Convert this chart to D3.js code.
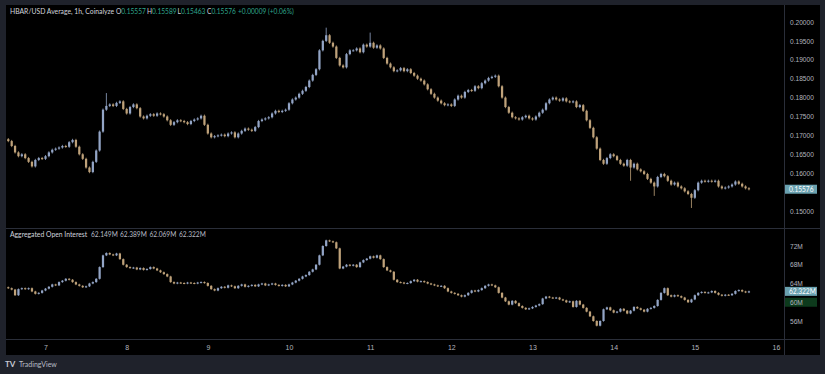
<!DOCTYPE html>
<html>
<head>
<meta charset="utf-8">
<script src="https://cdn.jsdelivr.net/npm/d3@7/dist/d3.min.js"></script>
<style>
  html, body { margin: 0; padding: 0; background: #1f222b; }
  svg { display: block; font-family: Lato, "Noto Sans", sans-serif; }
</style>
</head>
<body>
<svg id="mychart"></svg>
<script>
// hourly closes, HBAR/USD, starting day 6 13:00
var priceClose = [
  0.1685,0.1672,0.1655,0.1645,0.1650,0.1640,0.1630,0.1618,0.1635,0.1640,
  0.1638,0.1645,0.1655,0.1662,0.1665,0.1668,0.1672,0.1670,0.1682,0.1688,
  0.1670,0.1650,0.1638,0.1615,0.1603,0.1630,0.1660,0.1710,0.1768,0.1778,
  0.1782,0.1778,0.1786,0.1790,0.1770,0.1758,0.1775,0.1782,0.1772,0.1750,
  0.1745,0.1752,0.1756,0.1752,0.1758,0.1756,0.1750,0.1740,0.1728,0.1735,
  0.1740,0.1738,0.1735,0.1730,0.1738,0.1742,0.1745,0.1752,0.1728,0.1705,
  0.1695,0.1698,0.1700,0.1702,0.1698,0.1705,0.1708,0.1695,0.1705,0.1712,
  0.1718,0.1715,0.1712,0.1722,0.1738,0.1742,0.1745,0.1748,0.1758,0.1765,
  0.1762,0.1765,0.1768,0.1785,0.1795,0.1800,0.1810,0.1818,0.1828,0.1845,
  0.1860,0.1875,0.1925,0.1950,0.1965,0.1945,0.1935,0.1905,0.1885,0.1880,
  0.1915,0.1925,0.1925,0.1930,0.1920,0.1940,0.1935,0.1945,0.1932,0.1938,
  0.1930,0.1905,0.1890,0.1880,0.1870,0.1872,0.1878,0.1870,0.1875,0.1865,
  0.1858,0.1850,0.1845,0.1835,0.1822,0.1810,0.1800,0.1792,0.1785,0.1780,
  0.1782,0.1778,0.1795,0.1805,0.1800,0.1815,0.1820,0.1818,0.1830,0.1825,
  0.1838,0.1845,0.1852,0.1855,0.1858,0.1830,0.1800,0.1775,0.1760,0.1748,
  0.1745,0.1742,0.1748,0.1752,0.1745,0.1742,0.1750,0.1760,0.1768,0.1785,
  0.1795,0.1800,0.1795,0.1792,0.1798,0.1790,0.1788,0.1790,0.1775,0.1780,
  0.1765,0.1740,0.1720,0.1695,0.1665,0.1635,0.1625,0.1640,0.1650,0.1645,
  0.1635,0.1625,0.1620,0.1635,0.1615,0.1625,0.1610,0.1605,0.1598,0.1585,
  0.1575,0.1565,0.1590,0.1598,0.1592,0.1580,0.1570,0.1575,0.1565,0.1560,
  0.1552,0.1545,0.1535,0.1555,0.1575,0.1580,0.1578,0.1580,0.1578,0.1580,
  0.1565,0.1560,0.1562,0.1565,0.1570,0.1578,0.1572,0.1565,0.1560,0.15576
];
var priceFirstOpen = 0.1690;
// long wicks that stand out from the rest
var priceWicks = [
  {i: 29, high: 0.1812, low: null},
  {i: 94, high: 0.1985, low: null},
  {i: 107, high: 0.1972, low: null},
  {i: 184, high: null, low: 0.1580},
  {i: 191, high: null, low: 0.1540},
  {i: 202, high: null, low: 0.1508}
];

// aggregated open interest, millions, same hours
var oiClose = [
  63.0,62.7,61.5,62.8,63.0,62.8,63.0,62.3,61.8,62.0,
  62.5,62.9,63.3,63.8,63.6,64.3,64.6,65.0,64.8,64.3,
  63.8,63.5,63.2,63.4,64.0,64.3,65.0,67.5,70.0,70.5,
  70.2,70.0,70.4,69.2,68.0,67.5,67.3,67.4,67.0,67.3,
  66.9,67.1,67.5,67.2,66.8,66.4,66.0,65.5,64.3,64.0,
  64.2,64.1,64.0,64.2,64.1,64.0,64.2,64.3,64.1,63.5,
  62.8,62.5,63.0,63.3,63.1,63.6,63.4,63.0,63.5,63.8,
  63.3,63.5,63.7,63.4,63.8,64.0,63.6,63.8,64.0,63.7,
  63.5,63.7,63.4,63.8,64.2,64.6,65.0,65.5,65.8,66.5,
  67.0,68.0,70.0,72.0,73.2,73.0,72.8,71.5,67.2,67.6,
  68.0,67.8,68.0,67.5,68.5,69.0,69.3,69.8,69.5,70.0,
  69.2,67.5,66.8,66.5,64.8,64.3,64.2,64.0,64.1,64.5,
  64.8,64.4,64.5,64.3,64.0,63.8,63.6,63.4,63.5,63.0,
  62.3,62.0,61.8,61.5,61.2,61.5,62.0,62.5,62.3,62.6,
  63.0,63.5,63.8,63.6,63.2,62.0,61.0,60.2,59.5,60.3,
  59.8,59.2,58.8,58.5,58.7,59.0,59.3,59.6,60.8,61.2,
  61.0,60.9,61.0,60.6,60.4,60.0,60.2,59.0,60.3,59.5,
  58.8,58.0,57.0,56.0,55.0,56.0,58.5,58.9,58.3,57.8,
  58.0,58.6,58.2,57.6,58.2,59.0,58.7,58.4,58.0,58.6,
  58.8,59.2,60.5,62.0,63.0,61.5,61.2,61.5,61.3,61.0,
  60.5,60.0,60.6,61.5,62.0,62.2,62.0,62.1,62.4,62.0,
  61.6,61.4,61.6,61.5,61.8,62.4,62.6,62.3,62.1,62.322
];
var oiFirstOpen = 63.2;

// 0.155 is hidden behind the last price box, as in the original
var priceTicks = [0.15, 0.16, 0.165, 0.17, 0.175, 0.18, 0.185, 0.19, 0.195, 0.20];
var oiTicks = [56, 60, 64, 68, 72];
var dayTicks = [7, 8, 9, 10, 11, 12, 13, 14, 15, 16];

var lastPrice = 0.15576;
var lastOi = 62.322;
var ohlcLegend = [["O", "0.15557"], ["H", "0.15589"], ["L", "0.15463"], ["C", "0.15576"]];
var oiLegend = ["62.149M", "62.389M", "62.069M", "62.322M"];

var width = 825;
var height = 374;
var upColor = "#93a5c6";
var downColor = "#bfa27a";
var axisText = "#b2b5be";
var lineColor = "#2a2e39";

var svg = d3.select("#mychart")
  .attr("width", width)
  .attr("height", height);

// frame and chart area
svg.append("rect").attr("width", width).attr("height", height).attr("fill", "#1f222b");
svg.append("rect").attr("x", 6).attr("y", 5).attr("width", 814).attr("height", 350).attr("fill", "#000");

var start = Date.UTC(2025, 0, 6, 13);
var hour = 3600 * 1000;
function dayDate(d) { return new Date(Date.UTC(2025, 0, d)); }

var x = d3.scaleTime()
  .domain([dayDate(7), dayDate(16)])
  .range([45.5, 776]);

var yPrice = d3.scaleLinear().domain([0.15, 0.20]).range([211, 22]);
var yOi = d3.scaleLinear().domain([56, 72]).range([321, 246]);

// build candles: open is the previous close
function makeCandles(closes, firstOpen, pad, wicks) {
  var out = closes.map(function (c, i) {
    var o = i === 0 ? firstOpen : closes[i - 1];
    return {t: new Date(start + i * hour), o: o, c: c,
            h: Math.max(o, c) + pad, l: Math.min(o, c) - pad};
  });
  (wicks || []).forEach(function (w) {
    if (w.high != null) out[w.i].h = w.high;
    if (w.low != null) out[w.i].l = w.low;
  });
  return out;
}

var priceData = makeCandles(priceClose, priceFirstOpen, 0.0003, priceWicks);
var oiData = makeCandles(oiClose, oiFirstOpen, 0.15, []);

var bodyW = (x(new Date(start + hour)) - x(new Date(start))) * 0.66;

function drawCandles(g, data, y) {
  var c = g.selectAll("g.candle")
    .data(data)
    .enter()
    .append("g")
    .attr("class", "candle")
    .attr("fill", function (d) { return d.c >= d.o ? upColor : downColor; })
    .attr("stroke", function (d) { return d.c >= d.o ? upColor : downColor; });

  c.append("line")
    .attr("x1", function (d) { return x(d.t); })
    .attr("x2", function (d) { return x(d.t); })
    .attr("y1", function (d) { return y(d.h); })
    .attr("y2", function (d) { return y(d.l); })
    .attr("stroke-width", 0.8);

  c.append("rect")
    .attr("x", function (d) { return x(d.t) - bodyW / 2; })
    .attr("width", bodyW)
    .attr("y", function (d) { return y(Math.max(d.o, d.c)); })
    .attr("height", function (d) { return Math.max(1, Math.abs(y(d.o) - y(d.c))); })
    .attr("stroke", "none");
}

var clip = svg.append("defs");
clip.append("clipPath").attr("id", "pricePane")
  .append("rect").attr("x", 6).attr("y", 5).attr("width", 778).attr("height", 223);
clip.append("clipPath").attr("id", "oiPane")
  .append("rect").attr("x", 6).attr("y", 229).attr("width", 778).attr("height", 110);

drawCandles(svg.append("g").attr("clip-path", "url(#pricePane)"), priceData, yPrice);
drawCandles(svg.append("g").attr("clip-path", "url(#oiPane)"), oiData, yOi);

// separators
svg.append("line").attr("x1", 784.5).attr("x2", 784.5).attr("y1", 5).attr("y2", 355)
  .attr("stroke", lineColor);
svg.append("line").attr("x1", 6).attr("x2", 820).attr("y1", 228.5).attr("y2", 228.5)
  .attr("stroke", lineColor);
svg.append("line").attr("x1", 6).attr("x2", 820).attr("y1", 339.5).attr("y2", 339.5)
  .attr("stroke", lineColor);

// right axes
function styleAxis(g) {
  g.select(".domain").remove();
  g.selectAll("line").remove();
  g.selectAll("text").attr("fill", axisText).attr("font-size", 6.6).attr("x", 5);
}

svg.append("g")
  .attr("transform", "translate(785,0)")
  .call(d3.axisRight(yPrice).tickValues(priceTicks).tickFormat(d3.format(".5f")))
  .call(styleAxis);

// green band behind the 60M label
svg.append("rect").attr("x", 785).attr("y", yOi(60) - 4.5).attr("width", 32).attr("height", 9)
  .attr("fill", "#0d3a1c");

svg.append("g")
  .attr("transform", "translate(785,0)")
  .call(d3.axisRight(yOi).tickValues(oiTicks).tickFormat(function (d) { return d + "M"; }))
  .call(styleAxis);

// last value boxes
function lastBox(yv, label) {
  svg.append("rect").attr("x", 785).attr("y", yv - 4.5).attr("width", 32).attr("height", 9)
    .attr("fill", "#6aa1af");
  svg.append("text").attr("x", 789).attr("y", yv).attr("dy", "0.35em")
    .attr("fill", "#fff").attr("font-size", 6.6).text(label);
}
lastBox(yPrice(lastPrice), d3.format(".5f")(lastPrice));
lastBox(yOi(lastOi), d3.format(".3f")(lastOi) + "M");

// bottom time axis
svg.append("g")
  .attr("transform", "translate(0,340)")
  .call(d3.axisBottom(x).tickValues(dayTicks.map(dayDate)).tickFormat(d3.utcFormat("%-d")))
  .call(function (g) {
    g.select(".domain").remove();
    g.selectAll("line").remove();
    g.selectAll("text").attr("fill", axisText).attr("font-size", 7).attr("y", 5);
  });

// legends
var legX = [116, 147, 177.5, 207];
var leg = svg.append("g").attr("font-size", 6.6);
leg.append("text").attr("x", 10).attr("y", 14).attr("fill", "#d1d4dc").attr("font-size", 6.8)
  .text("HBAR/USD Average, 1h, Coinalyze");
ohlcLegend.forEach(function (p, i) {
  var t = leg.append("text").attr("x", legX[i]).attr("y", 14).attr("fill", "#d1d4dc");
  t.append("tspan").text(p[0]);
  t.append("tspan").attr("fill", "#2fa58e").text(p[1]);
});
leg.append("text").attr("x", 238).attr("y", 14).attr("fill", "#2fa58e")
  .text("+0.00009 (+0.06%)");

var leg2X = [91, 120, 149.5, 179];
var leg2 = svg.append("g").attr("font-size", 6.6);
leg2.append("text").attr("x", 10).attr("y", 237).attr("fill", "#d1d4dc").attr("font-size", 6.8)
  .text("Aggregated Open Interest");
oiLegend.forEach(function (v, i) {
  leg2.append("text").attr("x", leg2X[i]).attr("y", 237).attr("fill", "#b8bcc6").text(v);
});

// tradingview mark
svg.append("text").attr("x", 5).attr("y", 367).attr("font-size", 8).attr("font-weight", "bold")
  .attr("fill", "#c8cbd3").text("TV");
svg.append("text").attr("x", 19).attr("y", 367).attr("font-size", 7).attr("fill", "#b8bcc6")
  .text("TradingView");
</script>
</body>
</html>
